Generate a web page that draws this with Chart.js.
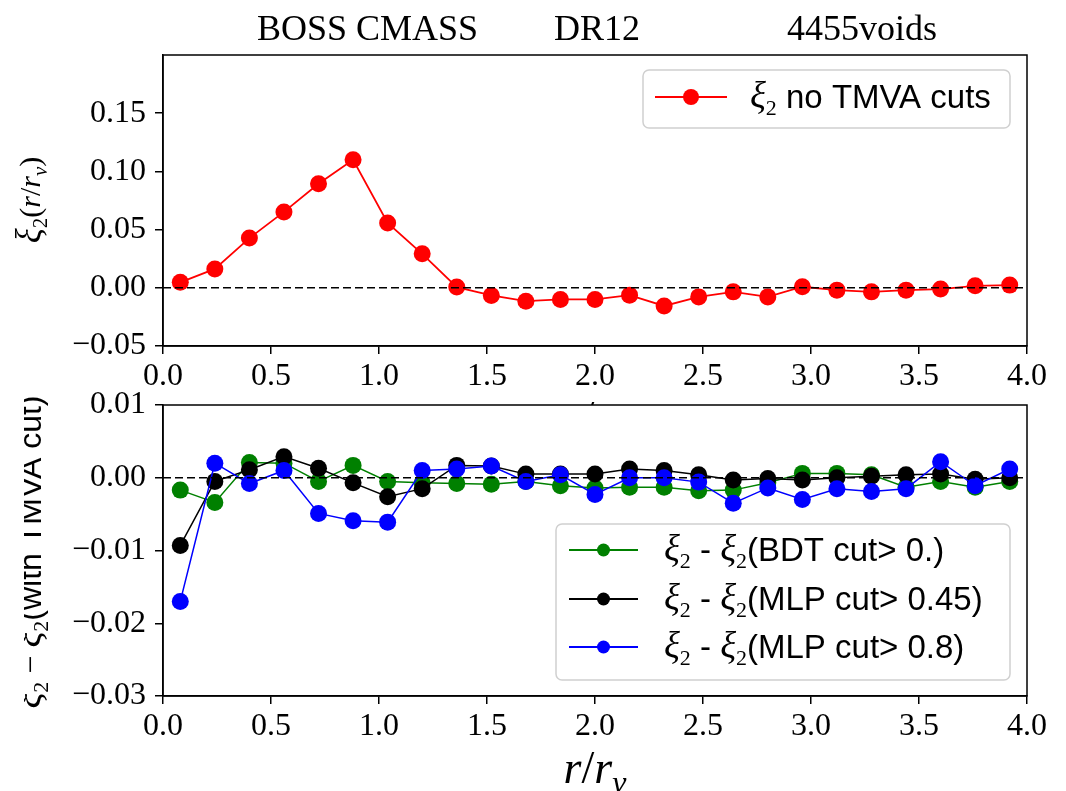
<!DOCTYPE html>
<html>
<head>
<meta charset="utf-8">
<script src="https://cdn.jsdelivr.net/npm/chart.js@4.4.0/dist/chart.umd.min.js"></script>
<style>
  html, body { margin: 0; padding: 0; background: #fff; }
  #wrap { position: relative; width: 1066px; height: 791px; overflow: hidden; }
  canvas { position: absolute; left: 0; top: 0; }
</style>
</head>
<body>
<div id="wrap">
  <canvas id="topChart" width="1066" height="791"></canvas>
  <canvas id="botChart" width="1066" height="791"></canvas>
</div>
<script>
// bin centres r/r_v
const rBins = [0.08, 0.24, 0.40, 0.56, 0.72, 0.88, 1.04, 1.20, 1.36, 1.52, 1.68, 1.84, 2.00,
               2.16, 2.32, 2.48, 2.64, 2.80, 2.96, 3.12, 3.28, 3.44, 3.60, 3.76, 3.92];

// xi_2 with no TMVA cuts
const xi2NoCut = [0.0047, 0.0162, 0.0427, 0.0652, 0.0894, 0.110, 0.0557, 0.0292, 0.0006, -0.0066,
                  -0.0115, -0.0100, -0.0100, -0.0063, -0.0156, -0.0078, -0.0035, -0.0078, 0.0009,
                  -0.0020, -0.0035, -0.0020, -0.0011, 0.0017, 0.0023];

// differences xi_2 - xi_2(with cut)
const diffBDT = [-0.0017, -0.0034, 0.0021, 0.0020, -0.0005, 0.0017, -0.0005, -0.0007, -0.0008, -0.0009,
                 -0.0005, -0.0011, -0.0014, -0.0013, -0.0013, -0.0018, -0.0017, -0.0007, 0.0006,
                 0.0006, 0.0004, -0.0013, -0.0005, -0.0013, -0.0005];
const diffMLP045 = [-0.0093, -0.0005, 0.0011, 0.0029, 0.0013, -0.0007, -0.0026, -0.0015, 0.0017, 0.0016,
                    0.0005, 0.0005, 0.0005, 0.0012, 0.0010, 0.0004, -0.0003, -0.0001, -0.0003,
                    0.0000, 0.0002, 0.0004, 0.0005, -0.0002, 0.0000];
const diffMLP08 = [-0.0170, 0.0020, -0.0008, 0.0010, -0.0049, -0.0059, -0.0061, 0.0010, 0.0012, 0.0016,
                   -0.0005, 0.0004, -0.0023, 0.0000, 0.0000, -0.0006, -0.0035, -0.0014, -0.0030,
                   -0.0015, -0.0019, -0.0015, 0.0022, -0.0011, 0.0012];

const zeroX = [0, 4];
const zeroY = [0, 0];

const SERIF = '"Liberation Serif", "DejaVu Serif", serif';
const SANS = '"Liberation Sans", Arial, sans-serif';

const pts = (ys) => rBins.map((x, i) => ({ x: x, y: ys[i] }));
const fmt = (d) => (v) => {
  const s = (Math.round(v * Math.pow(10, d)) / Math.pow(10, d)).toFixed(d);
  return s.replace('-', '\u2212');
};

// draw a run of text pieces with different fonts
function rich(ctx, parts, x, y, align) {
  let w = 0;
  parts.forEach(p => { ctx.font = p.f; w += ctx.measureText(p.t).width; });
  let cx = align === 'center' ? x - w / 2 : x;
  parts.forEach(p => {
    ctx.font = p.f;
    ctx.fillText(p.t, cx, y + (p.dy || 0));
    cx += ctx.measureText(p.t).width;
  });
}
const xi2 = (s) => [
  { t: '\u03BE', f: `italic ${Math.round(s * 1.15)}px ${SERIF}` },
  { t: '2', f: `${Math.round(s * 0.7)}px ${SERIF}`, dy: s * 0.22 }
];
const rOverRv = (s) => [
  { t: 'r', f: `italic ${s}px ${SERIF}` },
  { t: '/', f: `${s}px ${SERIF}` },
  { t: 'r', f: `italic ${s}px ${SERIF}` },
  { t: 'v', f: `italic ${Math.round(s * 0.7)}px ${SERIF}`, dy: s * 0.22 }
];

function frame(chart) {
  const a = chart.chartArea, ctx = chart.ctx;
  ctx.save();
  ctx.strokeStyle = '#000';
  ctx.lineWidth = 1.5;
  ctx.strokeRect(a.left, a.top, a.right - a.left, a.bottom - a.top);
  ctx.restore();
}

function legendBox(ctx, x0, y0, x1, y1) {
  ctx.save();
  ctx.beginPath();
  ctx.roundRect(x0, y0, x1 - x0, y1 - y0, 6);
  ctx.fillStyle = 'rgba(255,255,255,0.85)';
  ctx.fill();
  ctx.strokeStyle = '#d0d0d0';
  ctx.lineWidth = 1.5;
  ctx.stroke();
  ctx.restore();
}

function legendRow(ctx, color, lx0, lx1, cy, r, parts, tx) {
  ctx.save();
  ctx.strokeStyle = color;
  ctx.lineWidth = 1.8;
  ctx.beginPath();
  ctx.moveTo(lx0, cy);
  ctx.lineTo(lx1, cy);
  ctx.stroke();
  ctx.fillStyle = color;
  ctx.beginPath();
  ctx.arc((lx0 + lx1) / 2, cy, r, 0, Math.PI * 2);
  ctx.fill();
  ctx.fillStyle = '#000';
  ctx.textBaseline = 'alphabetic';
  rich(ctx, parts, tx, cy + 11, 'left');
  ctx.restore();
}

function axes(yMin, yMax, yStep, xHeight) {
  return {
    x: {
      type: 'linear', min: 0, max: 4,
      afterFit: (s) => { s.height = xHeight; },
      ticks: { stepSize: 0.5, autoSkip: false, maxRotation: 0, padding: 3, color: '#000',
               font: { family: SERIF, size: 32 }, callback: fmt(1) },
      grid: { display: true, drawOnChartArea: false, drawTicks: true, tickLength: 8, color: '#000', lineWidth: 1.5 },
      border: { display: true, color: '#000', width: 1.5 }
    },
    y: {
      type: 'linear', min: yMin, max: yMax,
      afterFit: (s) => { s.width = 163; },
      afterBuildTicks: (s) => { s.ticks = s.ticks.filter(t => t.value < yMax - yStep / 10 || yMax < 0.1); },
      ticks: { stepSize: yStep, padding: 9, color: '#000',
               font: { family: SERIF, size: 32 }, callback: fmt(2) },
      grid: { display: true, drawOnChartArea: false, drawTicks: true, tickLength: 8, color: '#000', lineWidth: 1.5 },
      border: { display: true, color: '#000', width: 1.5 }
    }
  };
}

const zeroSet = {
  label: 'zero', data: zeroX.map((x, i) => ({ x: x, y: zeroY[i] })),
  borderColor: '#000', borderWidth: 1.5, borderDash: [8, 4], pointRadius: 0, order: 0
};

function series(label, ys, color, order, lw) {
  return {
    label: label, data: pts(ys), borderColor: color, backgroundColor: color,
    borderWidth: lw, pointRadius: 8.5, pointBackgroundColor: color, pointBorderWidth: 0,
    pointHoverRadius: 8.5, order: order
  };
}

// ---------- top panel ----------
const topDecor = {
  id: 'topDecor',
  afterDraw(chart) {
    const ctx = chart.ctx;
    frame(chart);
    ctx.save();
    ctx.fillStyle = '#000';
    ctx.textBaseline = 'alphabetic';
    ctx.font = `36px ${SERIF}`;
    ctx.fillText('BOSS CMASS', 257, 40);
    ctx.fillText('DR12', 554, 40);
    ctx.fillText('4455voids', 787, 40);
    // x label (mostly hidden behind lower panel)
    rich(ctx, rOverRv(46), 595, 433, 'center');
    // y label
    ctx.save();
    ctx.translate(40, 200);
    ctx.rotate(-Math.PI / 2);
    rich(ctx, [].concat(xi2(30), [{ t: '(', f: `30px ${SERIF}` }], rOverRv(30), [{ t: ')', f: `30px ${SERIF}` }]), 0, 0, 'center');
    ctx.restore();
    ctx.restore();
    legendBox(ctx, 643, 70, 1010, 128);
    legendRow(ctx, '#ff0000', 655, 727, 97, 8, [].concat(xi2(32), [{ t: ' no TMVA cuts', f: `33px ${SANS}` }]), 750);
  }
};

new Chart(document.getElementById('topChart'), {
  type: 'line',
  data: {
    datasets: [
      zeroSet,
      series('\u03BE2 no TMVA cuts', xi2NoCut, '#ff0000', 1, 1.8)
    ]
  },
  options: {
    responsive: false, animation: false,
    layout: { padding: { left: 0, top: 55, right: 39, bottom: 385 } },
    plugins: { legend: { display: false }, tooltip: { enabled: false } },
    scales: axes(-0.05, 0.2, 0.05, 60)
  },
  plugins: [topDecor]
});

// ---------- bottom panel ----------
const botDecor = {
  id: 'botDecor',
  beforeDraw(chart) {
    const a = chart.chartArea, ctx = chart.ctx;
    ctx.save();
    ctx.fillStyle = '#fff';
    ctx.fillRect(a.left, a.top, a.right - a.left, a.bottom - a.top);
    ctx.restore();
  },
  afterDraw(chart) {
    const ctx = chart.ctx;
    frame(chart);
    ctx.save();
    ctx.fillStyle = '#000';
    ctx.textBaseline = 'alphabetic';
    rich(ctx, rOverRv(46), 595, 783, 'center');
    // y label, partly cut at the left edge
    ctx.save();
    ctx.beginPath();
    ctx.rect(24, 0, 200, 791);
    ctx.clip();
    ctx.translate(41, 552);
    ctx.rotate(-Math.PI / 2);
    rich(ctx, [].concat(xi2(32), [{ t: ' \u2212 ', f: `32px ${SERIF}` }], xi2(32),
      [{ t: '(with TMVA cut)', f: `32px ${SANS}` }]), 0, 0, 'center');
    ctx.restore();
    ctx.restore();
    legendBox(ctx, 556, 524, 1010, 680);
    const lab = (tail) => [].concat(xi2(32), [{ t: ' - ', f: `33px ${SANS}` }], xi2(32), [{ t: tail, f: `33px ${SANS}` }]);
    legendRow(ctx, '#008000', 569, 638, 550, 6.5, lab('(BDT cut> 0.)'), 664);
    legendRow(ctx, '#000000', 569, 638, 599, 6.5, lab('(MLP cut> 0.45)'), 664);
    legendRow(ctx, '#0000ff', 569, 638, 647, 6.5, lab('(MLP cut> 0.8)'), 664);
  }
};

new Chart(document.getElementById('botChart'), {
  type: 'line',
  data: {
    datasets: [
      zeroSet,
      series('\u03BE2 - \u03BE2(BDT cut> 0.)', diffBDT, '#008000', 3, 1.5),
      series('\u03BE2 - \u03BE2(MLP cut> 0.45)', diffMLP045, '#000000', 2, 1.5),
      series('\u03BE2 - \u03BE2(MLP cut> 0.8)', diffMLP08, '#0000ff', 1, 1.5)
    ]
  },
  options: {
    responsive: false, animation: false,
    layout: { padding: { left: 0, top: 405, right: 39, bottom: 0 } },
    plugins: { legend: { display: false }, tooltip: { enabled: false } },
    scales: axes(-0.03, 0.01, 0.01, 95)
  },
  plugins: [botDecor]
});
</script>
</body>
</html>
